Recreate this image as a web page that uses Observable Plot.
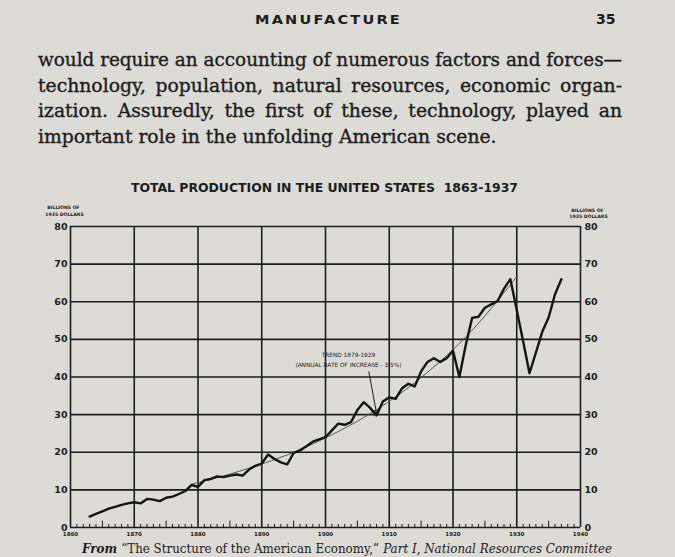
<!DOCTYPE html>
<html><head><meta charset="utf-8">
<script src="https://cdn.jsdelivr.net/npm/d3@7"></script>
<script src="https://cdn.jsdelivr.net/npm/@observablehq/plot@0.6"></script>
<style>
html,body{margin:0;padding:0;width:675px;height:557px;overflow:hidden;background:#dcdbd6;}
body{position:relative;color:#1c1c1c;}
.abs{position:absolute;white-space:nowrap;line-height:1;}
#head{top:12px;left:255px;font:bold 13px "DejaVu Sans",sans-serif;letter-spacing:2px;}
#page{top:11px;left:596px;font:bold 14px "DejaVu Sans",sans-serif;}
.pl{position:absolute;left:38px;white-space:nowrap;font-family:"DejaVu Serif",serif;font-size:18px;line-height:1;-webkit-text-stroke:0.35px #1c1c1c;}
#title{top:181px;left:131px;font:bold 12px "DejaVu Sans Condensed","DejaVu Sans",sans-serif;font-stretch:condensed;}
#chart{position:absolute;left:0;top:196px;}
#cap{top:541px;left:82px;font:12.5px "DejaVu Serif",serif;font-weight:bold;}
</style></head>
<body>
<div id="head" class="abs">MANUFACTURE</div>
<div id="page" class="abs">35</div>
<div id="l1" class="pl" style="top:51px">would require an accounting of numerous factors and forces—</div>
<div id="l2" class="pl" style="top:77px">technology, population, natural resources, economic organ-</div>
<div id="l3" class="pl" style="top:102px">ization. Assuredly, the first of these, technology, played an</div>
<div id="l4" class="pl" style="top:128px">important role in the unfolding American scene.</div>
<div id="title" class="abs">TOTAL PRODUCTION IN THE UNITED STATES&nbsp;&nbsp;1863-1937</div>
<div id="chart"></div>
<div id="cap" class="abs"><i>From</i> <span style="font-weight:normal">“The Structure of the American Economy,”</span> <i style="font-weight:normal">Part I, National Resources Committee</i></div>
<script>
// ---- data ----
const years = [1863,1864,1865,1866,1867,1868,1869,1870,1871,1872,1873,1874,1875,1876,1877,1878,1879,1880,
  1881,1882,1883,1884,1885,1886,1887,1888,1889,1890,1891,1892,1893,1894,1895,1896,1897,1898,1899,1900,
  1901,1902,1903,1904,1905,1906,1907,1908,1909,1910,1911,1912,1913,1914,1915,1916,1917,1918,1919,1920,
  1921,1922,1923,1924,1925,1926,1927,1928,1929,1930,1931,1932,1933,1934,1935,1936,1937];
const production = [2.9,3.6,4.3,5.0,5.5,6.0,6.4,6.7,6.4,7.6,7.4,7.0,7.9,8.2,8.9,9.7,11.3,10.8,
  12.6,12.9,13.6,13.4,13.8,14.1,13.8,15.4,16.4,17.0,19.4,18.2,17.3,16.8,19.8,20.5,21.6,22.8,23.4,24.0,
  25.8,27.6,27.3,28.0,31.2,33.3,31.8,29.8,33.5,34.6,34.2,37.0,38.2,37.5,41.5,44.0,45.0,44.0,45.0,47.0,
  40.0,48.5,55.7,56.0,58.4,59.3,60.2,63.5,66.0,57.8,49.5,41.0,46.5,52.0,55.8,62.0,66.0];
const trendYears = [1879,1884,1889,1894,1899,1904,1909,1914,1919,1924,1929,1930];
const trendValues = [11.5,13.7,16.3,19.3,23.0,27.3,32.4,38.5,45.7,54.3,64.5,66.8];
const yTicks = [0,10,20,30,40,50,60,70,80];
const xLabels = [1860,1870,1880,1890,1900,1910,1920,1930,1940];
const tickYears = [];
for (let yr = 1861; yr < 1940; yr++) if (yr % 10 !== 0) tickYears.push(yr);
const unitLines = ["BILLIONS OF", "1935 DOLLARS"];
const annoLines = ["TREND 1879-1929", "(ANNUAL RATE OF INCREASE - 3.5%)"];
const annoAt = {x: 1903.6, y: [45.7, 43.1]};
const arrowAt = [{x1: 1906.8, y1: 41.4, x2: 1908, y2: 30.4}];

const ink = "#1c1c1c";
const prodData = years.map((y, i) => ({year: y, value: production[i]}));
const trendData = trendYears.map((y, i) => ({year: y, value: trendValues[i]}));
const small = {fontSize: 4.6, fontWeight: "bold", fill: ink};

const chart = Plot.plot({
  width: 675, height: 345,
  marginLeft: 70, marginRight: 95, marginTop: 30, marginBottom: 14,
  style: {background: "transparent", overflow: "visible", fontFamily: "DejaVu Sans, sans-serif", color: ink},
  x: {domain: [1860, 1940], axis: null},
  y: {domain: [0, 80], axis: null},
  marks: [
    Plot.ruleY(yTicks, {stroke: ink, strokeWidth: 1.6}),
    Plot.ruleX(xLabels, {stroke: ink, strokeWidth: 1.6}),
    Plot.ruleX(tickYears, {x: d => d, y1: 0, y2: d => d % 5 === 0 ? 1.7 : 0.8, stroke: ink, strokeWidth: 1}),
    Plot.text(yTicks, {x: 1860, y: d => d, text: d => String(d), textAnchor: "end", dx: -3, fontSize: 9.5, fontWeight: "bold", fill: ink}),
    Plot.text(yTicks, {x: 1940, y: d => d, text: d => String(d), textAnchor: "start", dx: 4, fontSize: 9.5, fontWeight: "bold", fill: ink}),
    Plot.text(xLabels, {x: d => d, y: 0, text: d => String(d), dy: 7, fontSize: 5.5, fontWeight: "bold", fill: ink}),
    Plot.text([unitLines[0]], {x: 1860, y: 80, text: d => d, dx: -7, dy: -19, ...small}),
    Plot.text([unitLines[1]], {x: 1860, y: 80, text: d => d, dx: -6, dy: -12, ...small}),
    Plot.text([unitLines[0]], {x: 1940, y: 80, text: d => d, dx: 7, dy: -16, ...small}),
    Plot.text([unitLines[1]], {x: 1940, y: 80, text: d => d, dx: 8, dy: -10, ...small}),
    Plot.line(trendData, {x: "year", y: "value", curve: "natural", stroke: "#4a4a4a", strokeWidth: 0.9}),
    Plot.line(prodData, {x: "year", y: "value", stroke: "#141414", strokeWidth: 2.4, strokeLinejoin: "round"}),
    Plot.text(annoLines, {x: annoAt.x, y: (d, i) => annoAt.y[i], text: d => d, fontSize: 5.8, fill: ink}),
    Plot.arrow(arrowAt, {x1: "x1", y1: "y1", x2: "x2", y2: "y2", stroke: ink, strokeWidth: 1, headLength: 5})
  ]
});
document.getElementById("chart").appendChild(chart);

function fit(el, target) {
  el.style.display = "inline-block";
  el.style.transform = "none";
  const w = el.getBoundingClientRect().width;
  el.style.transformOrigin = "0 0";
  el.style.transform = `scaleX(${target / w})`;
}
function justify(el, target) {
  el.style.display = "inline-block";
  const w = el.getBoundingClientRect().width;
  const spaces = (el.textContent.match(/ /g) || []).length;
  if (w < target && spaces) el.style.wordSpacing = ((target - w) / spaces) + "px";
  else fit(el, target);
}
const l4 = document.getElementById("l4");
l4.style.display = "inline-block";
const w4 = l4.getBoundingClientRect().width;
const fs = 18 * 459 / w4;
["l1","l2","l3","l4"].forEach(id => document.getElementById(id).style.fontSize = fs + "px");
["l1","l2","l3"].forEach(id => justify(document.getElementById(id), 584));
fit(document.getElementById("head"), 147);
fit(document.getElementById("title"), 387);
fit(document.getElementById("cap"), 530);
</script>
</body></html>
